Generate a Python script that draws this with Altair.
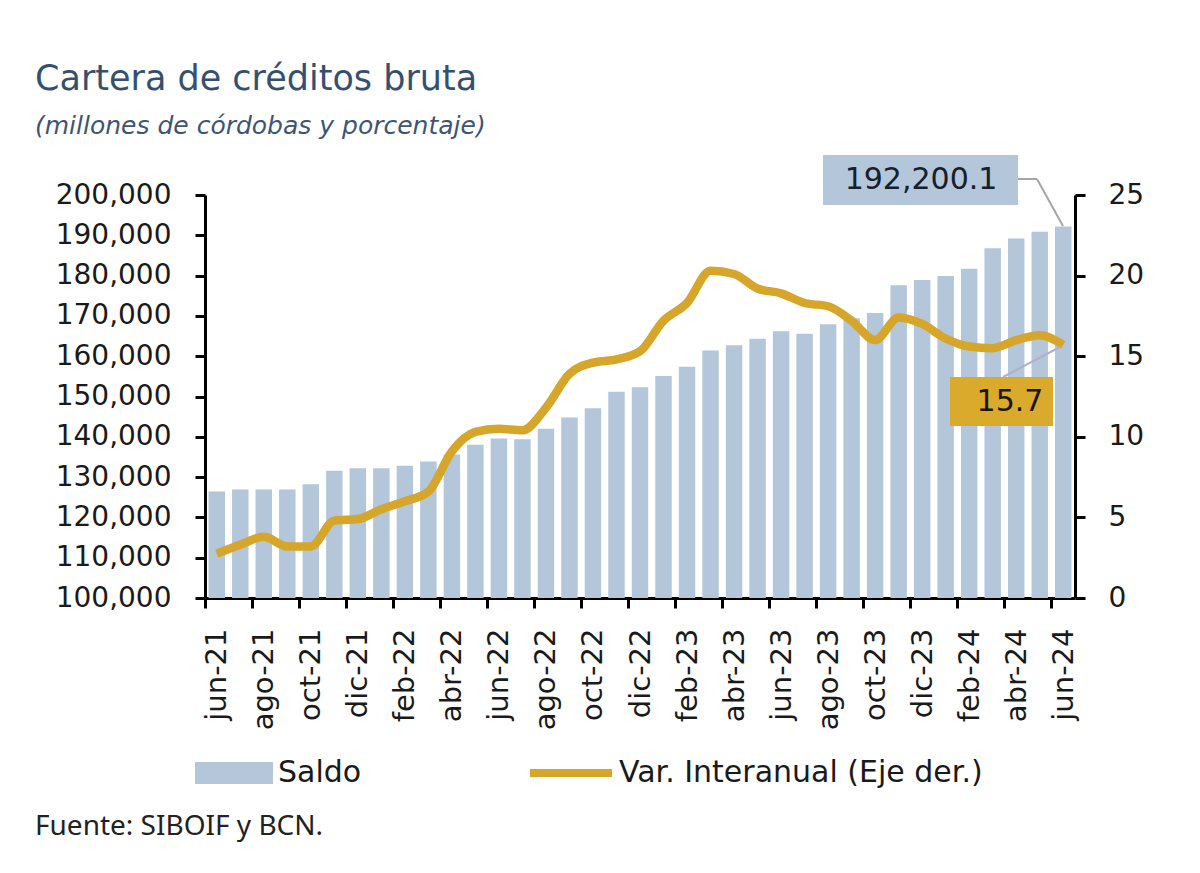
import altair as alt
import pandas as pd

meses = ["jun-21", "jul-21", "ago-21", "sep-21", "oct-21", "nov-21", "dic-21",
         "ene-22", "feb-22", "mar-22", "abr-22", "may-22", "jun-22", "jul-22",
         "ago-22", "sep-22", "oct-22", "nov-22", "dic-22", "ene-23", "feb-23",
         "mar-23", "abr-23", "may-23", "jun-23", "jul-23", "ago-23", "sep-23",
         "oct-23", "nov-23", "dic-23", "ene-24", "feb-24", "mar-24", "abr-24",
         "may-24", "jun-24"]

saldo = [126400, 126900, 126900, 126900, 128200, 131600, 132200,
         132200, 132800, 133900, 135600, 138000, 139600, 139400,
         142000, 144800, 147100, 151200, 152300, 155100, 157400,
         161400, 162700, 164300, 166200, 165600, 167900, 169400,
         170700, 177600, 178900, 179900, 181700, 186800, 189200,
         190900, 192200.1]

variacion = [2.75, 3.3, 3.8, 3.2, 3.2, 4.8, 4.9,
             5.5, 6.0, 6.6, 9.1, 10.3, 10.5, 10.4,
             11.8, 13.9, 14.6, 14.8, 15.3, 17.2, 18.3,
             20.3, 20.1, 19.2, 18.9, 18.3, 18.1, 17.2,
             16.0, 17.4, 17.0, 16.1, 15.6, 15.5, 16.0,
             16.3, 15.7]

eje_izq = list(range(100000, 200001, 10000))
eje_der = [0, 5, 10, 15, 20, 25]
etiquetas_x = meses[::2]

serie_barras = "Saldo"
serie_linea = "Var. Interanual (Eje der.)"

titulo = "Cartera de créditos bruta"
subtitulo = "(millones de córdobas y porcentaje)"
fuente = "Fuente: SIBOIF y BCN."
nota_saldo = "192,200.1"
nota_var = "15.7"

BAR = "#b3c6da"
GOLD = "#d6a62a"
TXT = "#1a1a1a"
AXF = "DejaVu Sans"

df = pd.DataFrame({"mes": meses, "saldo": saldo, "var": variacion,
                   "s": serie_barras, "v": serie_linea})
one = pd.DataFrame({"k": [0]})

W, H = 870, 403
step = W / len(meses)

xenc = alt.X(
    "mes:N", sort=meses, title=None,
    scale=alt.Scale(paddingInner=0.3, paddingOuter=0.15),
    axis=alt.Axis(values=etiquetas_x, labelAngle=270, tickOffset=-step / 2,
                  labelOffset=step / 2, labelFont=AXF, labelFontSize=29,
                  labelColor=TXT, labelPadding=20, tickSize=10, tickWidth=3,
                  tickColor="black", domainColor="black", domainWidth=3,
                  labelOverlap=False, labelBound=False),
)

bars = alt.Chart(df).mark_bar(opacity=1).encode(
    x=xenc,
    y=alt.Y("saldo:Q", title=None,
            scale=alt.Scale(domain=[100000, 200000], zero=False, nice=False),
            axis=alt.Axis(values=eje_izq, format=",d", orient="left", grid=False,
                          labelFont=AXF, labelFontSize=28, labelColor=TXT,
                          labelPadding=24, tickSize=10, tickWidth=3,
                          tickColor="black", domainColor="black", domainWidth=3)),
    y2=alt.datum(100000),
    fill=alt.Fill("s:N", scale=alt.Scale(domain=[serie_barras], range=[BAR]),
                  legend=alt.Legend(orient="none", legendX=-10, legendY=539,
                                    title=None, symbolType="M-1,-0.28H1V0.28H-1Z",
                                    symbolSize=6084, symbolStrokeWidth=0,
                                    labelFont=AXF, labelFontSize=30, labelLimit=0,
                                    labelColor=TXT, labelOffset=5)),
)

line = alt.Chart(df).mark_line(interpolate="monotone", strokeWidth=8.5).encode(
    x=xenc,
    y=alt.Y("var:Q", title=None,
            scale=alt.Scale(domain=[0, 25], nice=False),
            axis=alt.Axis(values=eje_der, orient="right", grid=False,
                          labelFont=AXF, labelFontSize=28, labelColor=TXT,
                          labelPadding=23, tickSize=10, tickWidth=3,
                          tickColor="black", domainColor="black", domainWidth=3)),
    stroke=alt.Stroke("v:N", scale=alt.Scale(domain=[serie_linea], range=[GOLD]),
                      legend=alt.Legend(orient="none", legendX=321, legendY=533,
                                        title=None, symbolType="stroke",
                                        symbolSize=6724, symbolStrokeWidth=8,
                                        labelFont=AXF, labelFontSize=30, labelLimit=0,
                                        labelColor=TXT, labelOffset=3)),
)

base = alt.Chart(one)

leader1a = base.mark_rule(color="#a6a6a6", strokeWidth=2).encode(
    x=alt.value(813), x2=alt.value(832), y=alt.value(-16), y2=alt.value(-16))
leader1b = base.mark_rule(color="#a6a6a6", strokeWidth=2).encode(
    x=alt.value(832), x2=alt.value(858), y=alt.value(-16), y2=alt.value(31))
leader2 = base.mark_rule(color="#b0b0cc", strokeWidth=2).encode(
    x=alt.value(798), x2=alt.value(855), y=alt.value(182), y2=alt.value(152))

box1 = base.mark_rect(color=BAR).encode(
    x=alt.value(618), x2=alt.value(813), y=alt.value(-40), y2=alt.value(10))
box2 = base.mark_rect(color="#d9aa2c").encode(
    x=alt.value(745), x2=alt.value(848), y=alt.value(182), y2=alt.value(231))

t1 = base.mark_text(text=nota_saldo, font=AXF, fontSize=30, color="#15202c",
                    align="center", baseline="middle").encode(
    x=alt.value(716), y=alt.value(-15))
t2 = base.mark_text(text=nota_var, font=AXF, fontSize=30, color="#1a1400",
                    align="center", baseline="middle").encode(
    x=alt.value(805), y=alt.value(207))

tit = base.mark_text(text=titulo, font=AXF, fontSize=35, color="#34506e",
                     align="left", baseline="alphabetic").encode(
    x=alt.value(-170), y=alt.value(-105))
sub = base.mark_text(text=subtitulo, font=AXF, fontSize=25, fontStyle="italic",
                     color="#3d5573", align="left", baseline="alphabetic").encode(
    x=alt.value(-170), y=alt.value(-61))
src = base.mark_text(text=fuente, font="Noto Sans", fontSize=28, color="#222222",
                     align="left", baseline="alphabetic").encode(
    x=alt.value(-170), y=alt.value(640))

chart = alt.layer(
    bars, line, leader1a, leader1b, leader2, box1, box2, t1, t2, tit, sub, src
).resolve_scale(
    y="independent"
).properties(
    width=W, height=H,
    autosize=alt.AutoSizeParams(type="none"),
    padding={"left": 197, "top": 187, "right": 117, "bottom": 267},
    background="white",
).configure_view(stroke=None)

chart.save("out.html", embed_options={"renderer": "svg", "actions": False})
